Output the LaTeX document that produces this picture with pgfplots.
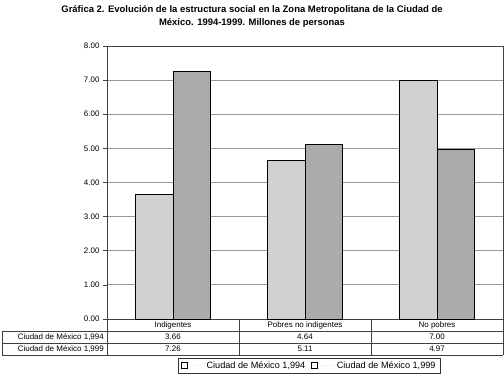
\documentclass[border=0pt]{standalone}
\usepackage{fontspec}
\setmainfont{Liberation Sans}
\usepackage{pgfplots}
\pgfplotsset{compat=1.18}
\begin{document}
\begin{tikzpicture}[x=1bp,y=1bp]
\begin{axis}[
  at={(0,0)}, anchor=south west,
  width=396bp, height=273bp, scale only axis,
  xmin=-0.5, xmax=2.5, ymin=0, ymax=8,
  xtick=\empty,
  ytick={0,1,2,3,4,5,6,7,8}, ytick pos=left,
  yticklabel style={/pgf/number format/.cd, fixed, fixed zerofill, precision=2, assume math mode=true},
  tick label style={font=\fontsize{8}{9}\selectfont},
  ymajorgrids, grid style={black!40, line width=0.9bp},
  axis line style={black!75, line width=0.7bp},
  tick align=outside, major tick length=4bp, tick style={black!75, line width=0.7bp},
  ybar, bar width=0.284,
  clip=false,
  legend columns=2,
  legend style={at={(0.511,-0.170)}, anchor=center, draw=black!80, line width=0.6bp,
    font=\fontsize{9.2}{10}\selectfont, inner xsep=3bp, inner ysep=1.5bp,
    /tikz/every odd column/.append style={column sep=1bp},
    /tikz/every even column/.append style={column sep=4bp}},
]
\addplot[draw=black, line width=0.8bp, fill=black!18, bar shift=-0.142,
  legend image code/.code={\draw[black, fill=white, line width=0.8bp] (0bp,-3bp) rectangle (6bp,3bp); \path[draw=none] (0bp,0) -- (22bp,0);}]
  coordinates {(0,3.66) (1,4.64) (2,7.00)};
\addplot[draw=black, line width=0.8bp, fill=black!33, bar shift=0.142,
  legend image code/.code={\draw[black, fill=white, line width=0.8bp] (0bp,-3bp) rectangle (6bp,3bp); \path[draw=none] (0bp,0) -- (22bp,0);}]
  coordinates {(0,7.26) (1,5.11) (2,4.97)};
\legend{{Ciudad de México 1,994}, {Ciudad de México 1,999}}
\end{axis}
% data table
\begin{scope}[black!75, line width=0.6bp]
\draw (-105,-12) -- (396,-12);
\draw (-105,-24) -- (396,-24);
\draw (-105,-36) -- (396,-36);
\draw (-105,-12) -- (-105,-36);
\draw (0,0) -- (0,-36);
\draw (132,0) -- (132,-36);
\draw (264,0) -- (264,-36);
\draw (396,0) -- (396,-36);
\end{scope}
\begin{scope}[font=\fontsize{8}{9}\selectfont, inner sep=0pt]
\node at (66,-6) {Indigentes};
\node at (198,-6) {Pobres no indigentes};
\node at (330,-6) {No pobres};
\node[anchor=east] at (-3,-18) {Ciudad de México 1,994};
\node[anchor=east] at (-3,-30) {Ciudad de México 1,999};
\node at (66,-18) {3.66};
\node at (198,-18) {4.64};
\node at (330,-18) {7.00};
\node at (66,-30) {7.26};
\node at (198,-30) {5.11};
\node at (330,-30) {4.97};
\end{scope}
\node[font=\fontsize{9.5}{13}\selectfont\bfseries, align=center, inner sep=0pt] at (145,302.5)
  {Gráfica 2. Evolución de la estructura social en la Zona Metropolitana de la Ciudad de\\México. 1994-1999. Millones de personas};
\path[use as bounding box] (-107,-61) rectangle (397,319);
\end{tikzpicture}
\end{document}
